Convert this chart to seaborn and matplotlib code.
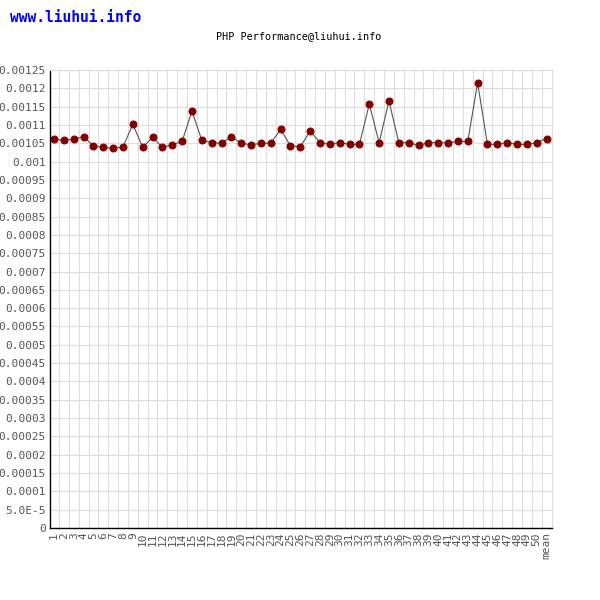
import numpy as np
import pandas as pd
import matplotlib
matplotlib.use('Agg')
import matplotlib.pyplot as plt
import seaborn as sns

runs = [str(i) for i in range(1, 51)] + ['mean']
times = [0.001061, 0.001058, 0.001061, 0.001068, 0.001043, 0.001039, 0.001036, 0.001040, 0.001102, 0.001039,
         0.001066, 0.001039, 0.001046, 0.001055, 0.001138, 0.001058, 0.001052, 0.001050, 0.001068, 0.001050,
         0.001046, 0.001050, 0.001050, 0.001088, 0.001043, 0.001041, 0.001083, 0.001052, 0.001047, 0.001052,
         0.001047, 0.001047, 0.001157, 0.001052, 0.001165, 0.001052, 0.001052, 0.001044, 0.001052, 0.001052,
         0.001051, 0.001055, 0.001055, 0.001215, 0.001047, 0.001047, 0.001052, 0.001047, 0.001047, 0.001052,
         0.001063]
y_ticks = [i * 0.00005 for i in range(26)]
y_labels = ['0', '5.0E-5', '0.0001', '0.00015', '0.0002', '0.00025', '0.0003', '0.00035', '0.0004',
            '0.00045', '0.0005', '0.00055', '0.0006', '0.00065', '0.0007', '0.00075', '0.0008',
            '0.00085', '0.0009', '0.00095', '0.001', '0.00105', '0.0011', '0.00115', '0.0012', '0.00125']

df = pd.DataFrame({'pos': range(len(runs)), 'time': times})

sns.set_style('white')
plt.rcParams['font.family'] = ['DejaVu Sans Mono']

fig = plt.figure(figsize=(6, 6), dpi=100)
ax = fig.add_axes([50 / 600, 72 / 600, 502 / 600, 458 / 600])

sns.lineplot(data=df, x='pos', y='time', ax=ax, color='#555555', linewidth=0.8,
             marker='o', markersize=5, markerfacecolor='#800000', markeredgecolor='#800000')

ax.set_xlim(-0.41, 50.55)
ax.set_ylim(0, 0.00125)
ax.set_xticks(range(len(runs)))
ax.set_xticklabels(runs, rotation=90, fontsize=8, color='#555555')
ax.set_xticks(np.arange(0.5, 50.5, 1), minor=True)
ax.set_yticks(y_ticks)
ax.set_yticklabels(y_labels, fontsize=8, color='#555555')
ax.tick_params(axis='both', which='both', length=0, pad=3)
ax.grid(False)
ax.grid(True, which='minor', axis='x', color='#dddddd', linewidth=0.8)
ax.grid(True, which='major', axis='y', color='#dddddd', linewidth=0.8)
ax.set_axisbelow(True)
ax.set_xlabel('')
ax.set_ylabel('')
for s in ['top', 'right']:
    ax.spines[s].set_color('#dddddd')
    ax.spines[s].set_linewidth(0.8)
for s in ['left', 'bottom']:
    ax.spines[s].set_color('black')
    ax.spines[s].set_linewidth(1.0)

fig.text(10 / 600, 1 - 18 / 600, 'www.liuhui.info', color='#0000ff', fontsize=10.5,
         fontweight='bold', ha='left', va='center')
fig.text(299 / 600, 1 - 36 / 600, 'PHP Performance@liuhui.info', color='black', fontsize=7.3,
         ha='center', va='center')

fig.savefig('out.png', dpi=100)
